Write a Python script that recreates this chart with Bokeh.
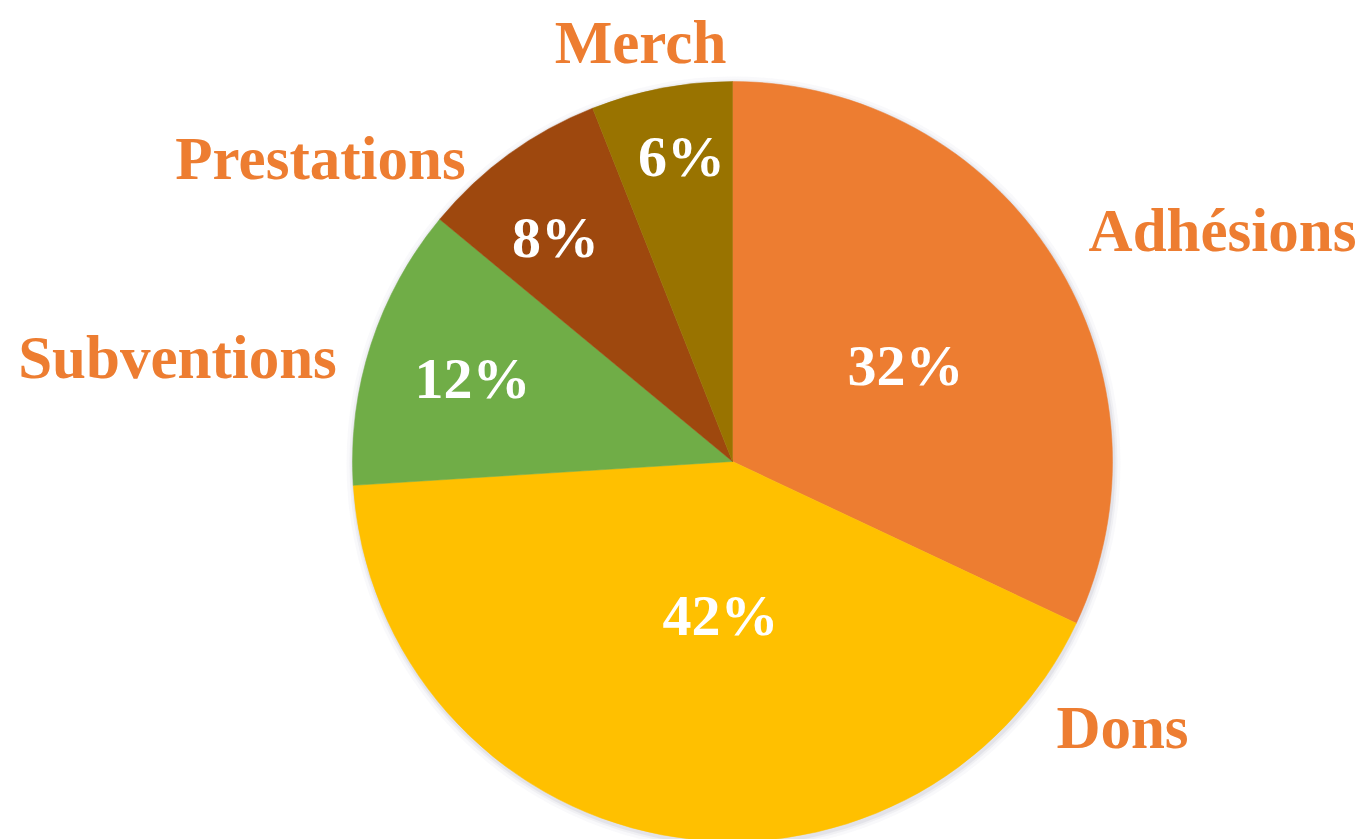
import math
from bokeh.plotting import figure
from bokeh.models import ColumnDataSource, Range1d
from bokeh.core.properties import value
from bokeh.embed import file_html
from bokeh.resources import INLINE

# ---- data ----
categories = ["Adhésions", "Dons", "Subventions", "Prestations", "Merch"]
shares = [32, 42, 12, 8, 6]
colors = ["#ED7D31", "#FFC000", "#70AD47", "#9E480E", "#997300"]

# ---- layout (pixels, y measured upward) ----
W, H = 1369, 839
CX, CY, R = 732, 378, 380
name_pos = [(1222, 609), (1122, 112), (177, 482), (320, 681), (640, 797)]
pct_pos = [(905, 474), (720, 224), (472, 461), (555, 602), (681, 683)]

total = float(sum(shares))
starts, ends = [], []
cum = 0.0
for s in shares:
    a0 = math.pi / 2 - 2 * math.pi * cum / total
    cum += s
    a1 = math.pi / 2 - 2 * math.pi * cum / total
    starts.append(a0)
    ends.append(a1)

src = ColumnDataSource(dict(cat=categories, share=shares, color=colors,
                            start=starts, end=ends,
                            x=[CX] * len(shares), y=[CY] * len(shares)))

p = figure(width=W, height=H, x_range=Range1d(0, W), y_range=Range1d(0, H),
           output_backend="svg", toolbar_location=None, min_border=0,
           outline_line_color=None, background_fill_color="white",
           border_fill_color="white")
p.axis.visible = False
p.grid.visible = False

# soft shadow
for dr, a in [(7, 0.10), (4, 0.18), (2, 0.3)]:
    p.circle(x=[CX + 1], y=[CY - 2], radius=R + dr, fill_color="#c8c8d4",
             fill_alpha=a, line_color=None)

p.wedge(x="x", y="y", radius=R, start_angle="start", end_angle="end",
        direction="clock", fill_color="color", line_color="color",
        line_width=0.5, source=src)

pct_src = ColumnDataSource(dict(x=[q[0] for q in pct_pos], y=[q[1] for q in pct_pos],
                                t=[f"{s}%" for s in shares]))
p.text(x="x", y="y", text="t", source=pct_src, text_color="white",
       text_font=value("Liberation Serif"), text_font_style="bold",
       text_font_size="58px", text_align="center", text_baseline="middle")

name_src = ColumnDataSource(dict(x=[q[0] for q in name_pos], y=[q[1] for q in name_pos],
                                 t=categories))
p.text(x="x", y="y", text="t", source=name_src, text_color="#ED7D31",
       text_font=value("Liberation Serif"), text_font_style="bold",
       text_font_size="61px", text_align="center", text_baseline="middle")

open("out.html", "w").write(file_html(p, INLINE))
